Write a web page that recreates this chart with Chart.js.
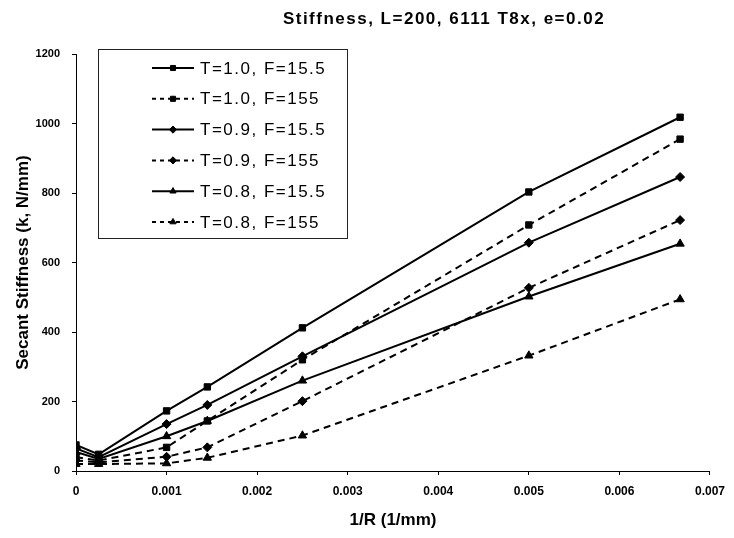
<!DOCTYPE html>
<html>
<head>
<meta charset="utf-8">
<script src="https://cdn.jsdelivr.net/npm/chart.js@4.4.1/dist/chart.umd.min.js"></script>
<style>
    html, body { margin:0; padding:0; background:#fff; }
</style>
</head>
<body>
<canvas id="stiffChart" width="734" height="538"></canvas>
<script>
// 1/R values (1/mm)
var xValues = [0, 0.00025, 0.001, 0.00145, 0.0025, 0.005, 0.00667];

// secant stiffness (k, N/mm)
var t10f15 = [75, 48, 173, 242, 412, 803, 1018];
var t10f155 = [40, 30, 68, 144, 320, 708, 955];
var t09f15 = [65, 40, 135, 190, 330, 657, 846];
var t09f155 = [30, 25, 41, 68, 201, 527, 722];
var t08f15 = [55, 35, 100, 144, 260, 502, 654];
var t08f155 = [20, 20, 22, 38, 102, 332, 494];

var xTickLabels = ['0', '0.001', '0.002', '0.003', '0.004', '0.005', '0.006', '0.007'];
var yTickLabels = ['0', '200', '400', '600', '800', '1000', '1200'];

var chartTitle = 'Stiffness, L=200, 6111 T8x, e=0.02';
var FONT = "'Liberation Sans', Arial, sans-serif";

function toPoints(arr) {
    return xValues.map(function(x, i) { return {x:x, y:arr[i]}; });
}

function series(label, arr, dashed, style) {
    return {
        label:label,
        data:toPoints(arr),
        showLine:true,
        borderColor:'#000',
        backgroundColor:'#000',
        borderWidth:2,
        borderDash:dashed ? [7, 5] : [],
        pointStyle:style,
        pointRadius:style == 'triangle' ? 4.8 : 4.5,
        pointBorderWidth:1,
        tension:0
    };
}

// title drawn off-centre like the original
var titlePlugin = {
    id:'titleText',
    afterDraw:function(chart) {
        var ctx = chart.ctx;
        ctx.save();
        ctx.font = 'bold 17px ' + FONT;
        ctx.letterSpacing = '1.5px';
        ctx.fillStyle = '#000';
        ctx.textAlign = 'center';
        ctx.textBaseline = 'middle';
        ctx.fillText(chartTitle, 444, 19);
        ctx.restore();
    }
};

// boxed legend inside the plot area
var legendPlugin = {
    id:'legendBox',
    afterDraw:function(chart) {
        var ctx = chart.ctx, a = chart.chartArea;
        var bx = a.left + 22, by = a.top - 5;
        ctx.save();
        ctx.strokeStyle = '#222';
        ctx.lineWidth = 1;
        ctx.setLineDash([]);
        ctx.strokeRect(bx + 0.5, by + 0.5, 249, 189);
        chart.data.datasets.forEach(function(ds, i) {
            var y = by + 19 + i * 30.8;
            ctx.strokeStyle = '#000';
            ctx.lineWidth = ds.borderWidth;
            ctx.setLineDash(ds.borderDash.length ? [4, 4] : []);
            ctx.beginPath();
            ctx.moveTo(bx + 54, y);
            ctx.lineTo(bx + 96, y);
            ctx.stroke();
            ctx.setLineDash([]);
            ctx.fillStyle = '#000';
            ctx.lineWidth = 1;
            Chart.helpers.drawPoint(ctx, {pointStyle:ds.pointStyle, radius:3.6, borderWidth:1, rotation:0}, bx + 75, y);
            ctx.font = '17px ' + FONT;
            ctx.letterSpacing = '1.5px';
            ctx.textAlign = 'left';
            ctx.textBaseline = 'middle';
            ctx.fillText(ds.label, bx + 102, y + 1);
        });
        ctx.restore();
    }
};

var stiffChart = new Chart(document.getElementById('stiffChart'), {
    type:'scatter',
    data:{
        datasets:[
            series('T=1.0, F=15.5', t10f15, false, 'rect'),
            series('T=1.0, F=155', t10f155, true, 'rect'),
            series('T=0.9, F=15.5', t09f15, false, 'rectRot'),
            series('T=0.9, F=155', t09f155, true, 'rectRot'),
            series('T=0.8, F=15.5', t08f15, false, 'triangle'),
            series('T=0.8, F=155', t08f155, true, 'triangle')
        ]
    },
    options:{
        responsive:false,
        animation:false,
        layout:{ padding:{top:54, right:21, left:0, bottom:0} },
        plugins:{
            legend:{ display:false },
            tooltip:{ enabled:false }
        },
        scales:{
            x:{
                type:'linear',
                min:0,
                max:0.007,
                afterFit:function(s) { s.height = 67; },
                border:{ display:true, color:'#000', width:1 },
                grid:{ drawOnChartArea:false, color:'#000', tickLength:4 },
                ticks:{
                    stepSize:0.001,
                    color:'#000',
                    padding:9,
                    maxRotation:0,
                    font:{ family:FONT, size:12, weight:'bold' },
                    callback:function(v, i) { return xTickLabels[i]; }
                },
                title:{
                    display:true,
                    text:'1/R (1/mm)',
                    color:'#000',
                    font:{ family:FONT, size:17, weight:'bold' },
                    padding:{ top:0, bottom:7 }
                }
            },
            y:{
                min:0,
                max:1200,
                afterFit:function(s) { s.width = 76; },
                border:{ display:true, color:'#000', width:1 },
                grid:{ drawOnChartArea:false, color:'#000', tickLength:4 },
                ticks:{
                    stepSize:200,
                    color:'#000',
                    padding:12,
                    font:{ family:FONT, size:11, weight:'bold' },
                    callback:function(v, i) { return yTickLabels[i]; }
                },
                title:{
                    display:true,
                    text:'Secant Stiffness (k, N/mm)',
                    color:'#000',
                    font:{ family:FONT, size:17, weight:'bold' },
                    padding:{ top:13, bottom:0 }
                }
            }
        }
    },
    plugins:[titlePlugin, legendPlugin]
});
</script>
</body>
</html>
